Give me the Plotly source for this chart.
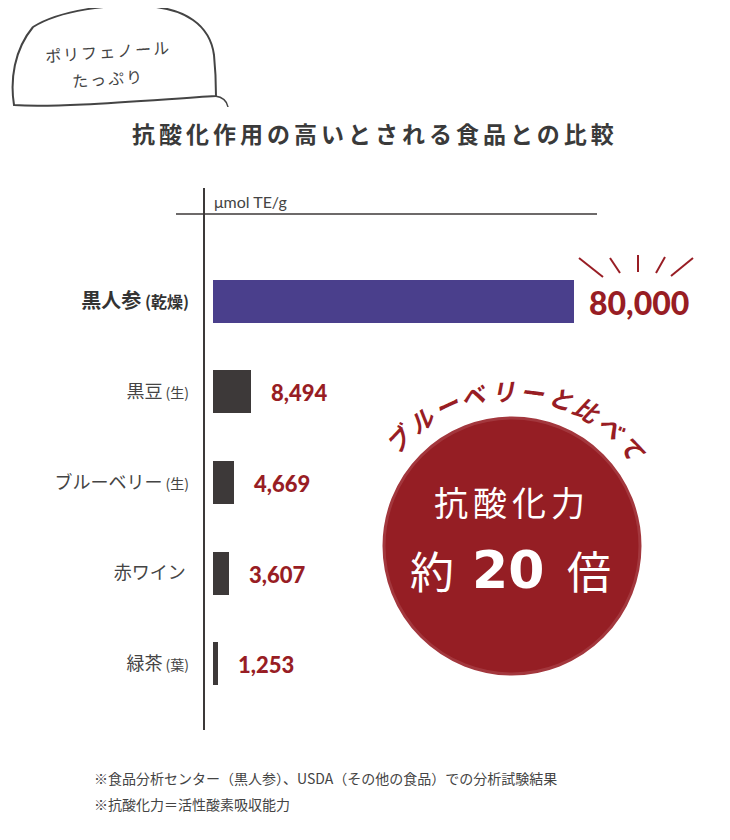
# -*- coding: utf-8 -*-
import math

import plotly.graph_objects as go

# ---------------------------------------------------------------
# data
# ---------------------------------------------------------------
foods = ['黒人参', '黒豆', 'ブルーベリー', '赤ワイン', '緑茶']
food_notes = ['(乾燥)', '(生)', '(生)', '', '(葉)']
orac_values = [80000, 8494, 4669, 3607, 1253]
value_labels = ['80,000', '8,494', '4,669', '3,607', '1,253']

unit_label = 'μmol TE/g'
title_text = '抗酸化作用の高いとされる食品との比較'
bubble_lines = ['ポリフェノール', 'たっぷり']
arc_text = 'ブルーベリーと比べて'
footnotes = ['※食品分析センター（黒人参）、USDA（その他の食品）での分析試験結果',
             '※抗酸化力＝活性酸素吸収能力']

# ---------------------------------------------------------------
# style
# ---------------------------------------------------------------
JP = 'Noto Sans CJK JP'
NUM = 'Lato'
DARK = '#3c3939'
RED = '#981d24'
bar_colors = ['#4a3f8c', '#3d3939', '#3d3939', '#3d3939', '#3d3939']

# page body has an 8px margin, so the figure is drawn 8px smaller and
# every position below is given in page pixels then shifted back
OFF = 8
W, H = 730 - OFF, 840 - OFF
PL, PT, PW, PH = 204 - OFF, 256 - OFF, 500, 453   # plot area in figure pixels
px_per_unit = 361.5 / 80000
x_offset = 8.5                          # gap between axis line and bar start


def px(x):
    return (x - OFF - PL) / PW


def py(y):
    return (PT + PH - (y - OFF)) / PH


tick_text = []
for i, (name, note) in enumerate(zip(foods, food_notes)):
    if i == 0:
        tick_text.append(f"<b><span style='font-size:20px;color:#333'>{name}</span>"
                         f"<span style='font-size:16px;color:#333'> {note}</span></b>")
    else:
        tick_text.append(f"{name}<span style='font-size:14px'> {note}</span>")

fig = go.Figure()
fig.add_trace(go.Bar(
    x=orac_values,
    y=foods,
    orientation='h',
    width=0.475,
    marker={'color': bar_colors, 'line': {'width': 0}},
    hoverinfo='skip',
))

annotations = []

# value labels next to each bar
for i, (v, lab) in enumerate(zip(orac_values, value_labels)):
    big = i == 0
    annotations.append(dict(
        x=v, y=foods[i], xref='x', yref='y', text=lab,
        xanchor='left', yanchor='middle', showarrow=False,
        xshift=13 if big else 18, yshift=-1,
        font={'family': NUM, 'size': 32 if big else 22, 'color': RED, 'weight': 900},
    ))

# title
annotations.append(dict(
    x=px(375), y=py(133), xref='paper', yref='paper', showarrow=False,
    text=f"<span style='letter-spacing:4px'>{title_text}</span>",
    xanchor='center', yanchor='middle',
    font={'family': JP, 'size': 23, 'color': '#3a3a3a', 'weight': 'bold'},
))

# unit
annotations.append(dict(
    x=px(212), y=py(201), xref='paper', yref='paper', showarrow=False,
    text=unit_label, xanchor='left', yanchor='middle',
    font={'family': NUM, 'size': 16, 'color': '#444'},
))

# speech bubble text
for line, yy in zip(bubble_lines, [51, 78]):
    annotations.append(dict(
        x=px(108), y=py(yy), xref='paper', yref='paper', showarrow=False,
        text=f"<span style='letter-spacing:2px'>{line}</span>",
        xanchor='center', yanchor='middle', textangle=-4,
        font={'family': JP, 'size': 16, 'color': '#444'},
    ))

# circle texts
cx, cy, cr = 512, 546, 128
annotations.append(dict(
    x=px(cx), y=py(501), xref='paper', yref='paper', showarrow=False,
    text=f"<span style='letter-spacing:5px'>抗酸化力</span>",
    xanchor='center', yanchor='middle',
    font={'family': JP, 'size': 34, 'color': 'white'},
))
annotations.append(dict(
    x=px(432), y=py(570), xref='paper', yref='paper', showarrow=False,
    text='約', xanchor='center', yanchor='middle',
    font={'family': JP, 'size': 44, 'color': 'white'},
))
annotations.append(dict(
    x=px(508), y=py(570), xref='paper', yref='paper', showarrow=False,
    text='<b>20</b>', xanchor='center', yanchor='middle',
    font={'family': 'DejaVu Sans', 'size': 52, 'color': 'white'},
))
annotations.append(dict(
    x=px(589), y=py(570), xref='paper', yref='paper', showarrow=False,
    text='倍', xanchor='center', yanchor='middle',
    font={'family': JP, 'size': 44, 'color': 'white'},
))

# curved text over the circle
arc_r = 156
a_start, a_end = -46.5, 50.7
n = len(arc_text)
for i, ch in enumerate(arc_text):
    ang = a_start + (a_end - a_start) * i / (n - 1)
    rad = math.radians(ang)
    annotations.append(dict(
        x=px(cx + arc_r * math.sin(rad)), y=py(cy - arc_r * math.cos(rad)),
        xref='paper', yref='paper', showarrow=False, text=ch,
        xanchor='center', yanchor='middle', textangle=ang,
        font={'family': JP, 'size': 24, 'color': RED, 'weight': 'bold', 'style': 'italic'},
    ))

# footnotes
for note, yy in zip(footnotes, [778, 804]):
    annotations.append(dict(
        x=px(92), y=py(yy), xref='paper', yref='paper', showarrow=False,
        text=note, xanchor='left', yanchor='middle',
        font={'family': JP, 'size': 14, 'color': '#444'},
    ))

shapes = []
# axis lines
shapes.append(dict(type='line', xref='paper', yref='paper',
                   x0=px(204), x1=px(204), y0=py(188), y1=py(730),
                   line={'color': DARK, 'width': 2}))
shapes.append(dict(type='line', xref='paper', yref='paper',
                   x0=px(176), x1=px(597), y0=py(214), y1=py(214),
                   line={'color': DARK, 'width': 1.5}))

# rays above the top value
for (x0, y0, x1, y1) in [(579, 258, 603, 277), (610, 258, 620, 273), (638, 255, 638, 272),
                         (665, 257, 656, 273), (693, 258, 671, 276)]:
    shapes.append(dict(type='line', xref='paper', yref='paper',
                       x0=px(x0), y0=py(y0), x1=px(x1), y1=py(y1),
                       line={'color': RED, 'width': 2}))

# red circle
shapes.append(dict(type='circle', xref='paper', yref='paper', layer='below',
                   x0=px(cx - cr), x1=px(cx + cr), y0=py(cy + cr), y1=py(cy - cr),
                   fillcolor='#951e24', line={'color': '#a3373d', 'width': 3}))


# hand drawn speech bubble
def pt(x, y):
    return f'{px(x):.5f},{py(y):.5f}'


bubble = (f'M {pt(33, 27)} C {pt(60, 10)} {pt(110, 4)} {pt(145, 6)} '
          f'C {pt(185, 8)} {pt(210, 25)} {pt(214, 55)} '
          f'C {pt(216, 75)} {pt(216, 88)} {pt(216, 96)} '
          f'C {pt(150, 100)} {pt(60, 108)} {pt(14, 105)} '
          f'C {pt(10, 80)} {pt(14, 50)} {pt(33, 27)}')
shapes.append(dict(type='path', xref='paper', yref='paper', path=bubble,
                   line={'color': '#444', 'width': 2}))
tail = f'M {pt(215, 96)} C {pt(222, 97)} {pt(227, 101)} {pt(228, 107)}'
shapes.append(dict(type='path', xref='paper', yref='paper', path=tail,
                   line={'color': '#444', 'width': 1.5}))

fig.update_layout(
    width=W, height=H,
    margin={'l': PL, 't': PT, 'r': W - PL - PW, 'b': H - PT - PH, 'autoexpand': False},
    template='none',
    plot_bgcolor='white', paper_bgcolor='white',
    showlegend=False,
    bargap=0,
    xaxis={'visible': False,
           'range': [-x_offset / px_per_unit, (PW - x_offset) / px_per_unit],
           'fixedrange': True},
    yaxis={'range': [len(foods) - 0.5, -0.5],
           'tickmode': 'array', 'tickvals': foods, 'ticktext': tick_text,
           'showgrid': False, 'zeroline': False, 'showline': False,
           'ticks': '', 'ticklabelstandoff': 14, 'automargin': False,
           'tickfont': {'family': JP, 'size': 18, 'color': '#444'},
           'fixedrange': True},
    annotations=annotations,
    shapes=shapes,
)

fig.write_html('out.html')
